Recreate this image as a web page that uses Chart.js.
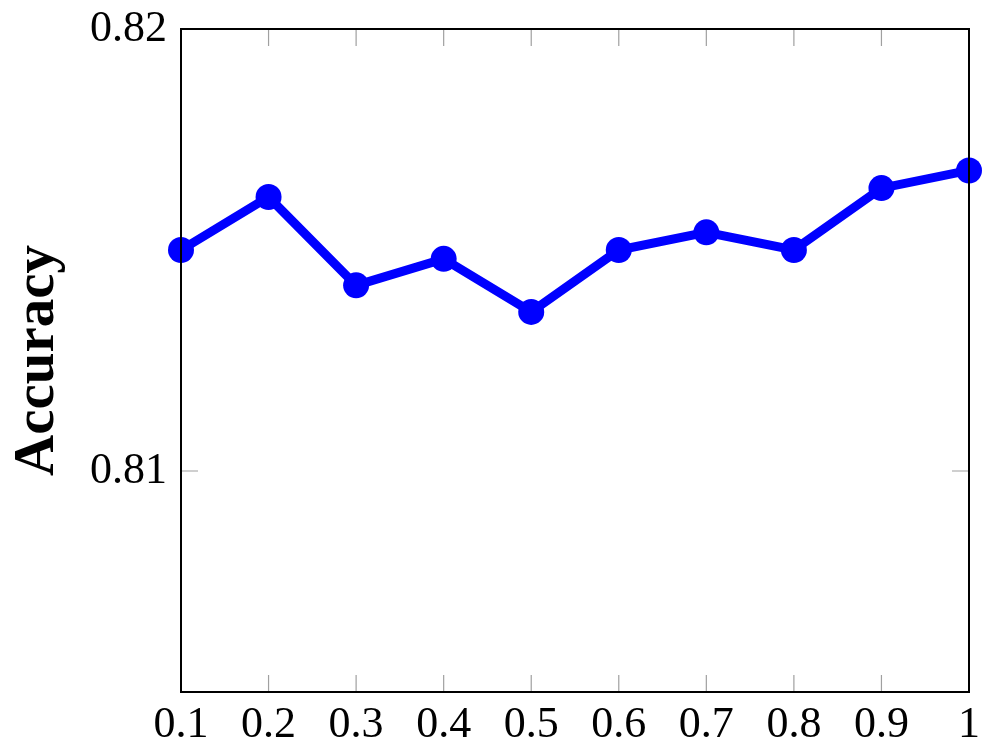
<!DOCTYPE html>
<html>
<head>
<meta charset="utf-8">
<script src="https://cdn.jsdelivr.net/npm/chart.js@4.4.1/dist/chart.umd.min.js"></script>
<style>
  html, body { margin: 0; padding: 0; background: #fff; }
  #wrap { width: 995px; height: 751px; }
</style>
</head>
<body>
<div id="wrap"><canvas id="myChart" width="995" height="751"></canvas></div>
<script>
var labels = ['0.1', '0.2', '0.3', '0.4', '0.5', '0.6', '0.7', '0.8', '0.9', '1'];
var accuracy = [0.8150, 0.8162, 0.8142, 0.8148, 0.8136, 0.8150, 0.8154, 0.8150, 0.8164, 0.8168];
var yTicks = [0.81, 0.82];
var yMin = 0.805;
var yMax = 0.82;

var serif = "'Liberation Serif', 'DejaVu Serif', serif";

// frame + inward tick marks like pgfplots
var framePlugin = {
  id: 'frame',
  afterDraw(chart) {
    var ctx = chart.ctx;
    var a = chart.chartArea;
    var xs = chart.scales.x;
    var ys = chart.scales.y;
    var len = 17;
    ctx.save();
    ctx.strokeStyle = '#a0a0a0';
    ctx.lineWidth = 1.2;
    ctx.beginPath();
    for (var i = 1; i < labels.length - 1; i++) {
      var px = xs.getPixelForValue(i);
      ctx.moveTo(px, a.bottom); ctx.lineTo(px, a.bottom - len);
      ctx.moveTo(px, a.top); ctx.lineTo(px, a.top + len);
    }
    for (var j = 0; j < yTicks.length; j++) {
      var py = ys.getPixelForValue(yTicks[j]);
      ctx.moveTo(a.left, py); ctx.lineTo(a.left + len, py);
      ctx.moveTo(a.right, py); ctx.lineTo(a.right - len, py);
    }
    ctx.stroke();
    ctx.strokeStyle = '#000';
    ctx.lineWidth = 2;
    ctx.strokeRect(a.left, a.top, a.right - a.left, a.bottom - a.top);
    ctx.restore();
  }
};

var data = {
  labels: labels,
  datasets: [{
    label: 'Accuracy',
    data: accuracy,
    borderColor: '#0000ff',
    backgroundColor: '#0000ff',
    borderWidth: 9,
    pointRadius: 13,
    pointHoverRadius: 13,
    pointBorderWidth: 0,
    tension: 0,
    clip: false
  }]
};

var config = {
  type: 'line',
  data: data,
  options: {
    responsive: false,
    animation: false,
    layout: { padding: { top: 29, right: 26, left: 0, bottom: 0 } },
    plugins: {
      legend: { display: false },
      tooltip: { enabled: false }
    },
    scales: {
      x: {
        type: 'category',
        offset: false,
        grid: { display: false, drawTicks: false },
        border: { display: false },
        ticks: {
          color: '#000',
          padding: 7,
          maxRotation: 0,
          autoSkip: false,
          font: { family: serif, size: 44 }
        },
        afterFit(scale) {
          scale.height = 59;
          scale.paddingLeft = 0;
          scale.paddingRight = 0;
        }
      },
      y: {
        min: yMin,
        max: yMax,
        grid: { display: false, drawTicks: false },
        border: { display: false },
        afterBuildTicks(scale) {
          scale.ticks = yTicks.map(v => ({ value: v }));
        },
        ticks: {
          color: '#000',
          padding: 14,
          font: { family: serif, size: 44 },
          callback: v => v.toFixed(2)
        },
        title: {
          display: true,
          text: 'Accuracy',
          color: '#000',
          padding: { top: 4, bottom: 0 },
          font: { family: serif, size: 57, weight: 'bold' }
        },
        afterFit(scale) {
          scale.width = 181;
          scale.paddingTop = 0;
          scale.paddingBottom = 0;
        }
      }
    }
  },
  plugins: [framePlugin]
};

var myChart = new Chart(document.getElementById('myChart'), config);
</script>
</body>
</html>
